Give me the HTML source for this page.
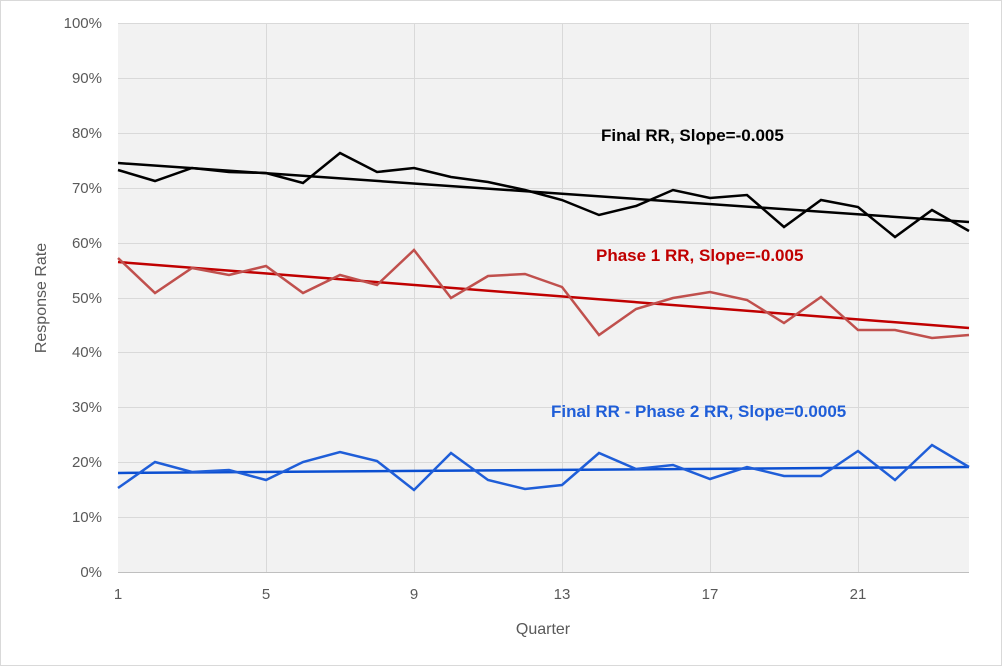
<!DOCTYPE html>
<html><head><meta charset="utf-8"><style>
body{margin:0;background:#fff}
svg{display:block;font-family:"Liberation Sans",Arial,sans-serif}
</style></head><body>
<svg width="1002" height="666" viewBox="0 0 1002 666" xmlns="http://www.w3.org/2000/svg">
<rect x="0.5" y="0.5" width="1001" height="665" fill="#fff" stroke="#d9d9d9"/>
<rect x="118" y="23" width="851" height="549" fill="#f2f2f2"/>
<g stroke="#d9d9d9" stroke-width="1">
<line x1="118" x2="969" y1="23.5" y2="23.5"/><line x1="118" x2="969" y1="78.5" y2="78.5"/>
<line x1="118" x2="969" y1="133.5" y2="133.5"/><line x1="118" x2="969" y1="188.5" y2="188.5"/>
<line x1="118" x2="969" y1="243.5" y2="243.5"/><line x1="118" x2="969" y1="298.5" y2="298.5"/>
<line x1="118" x2="969" y1="352.5" y2="352.5"/><line x1="118" x2="969" y1="407.5" y2="407.5"/>
<line x1="118" x2="969" y1="462.5" y2="462.5"/><line x1="118" x2="969" y1="517.5" y2="517.5"/>
<line y1="23" y2="572" x1="266.5" x2="266.5"/><line y1="23" y2="572" x1="414.5" x2="414.5"/>
<line y1="23" y2="572" x1="562.5" x2="562.5"/><line y1="23" y2="572" x1="710.5" x2="710.5"/>
<line y1="23" y2="572" x1="858.5" x2="858.5"/>
</g>
<line x1="118" x2="969" y1="572.5" y2="572.5" stroke="#bfbfbf"/>
<g font-size="15" fill="#595959" text-anchor="end">
<text x="102" y="28">100%</text><text x="102" y="83">90%</text><text x="102" y="138">80%</text>
<text x="102" y="193">70%</text><text x="102" y="248">60%</text><text x="102" y="303">50%</text>
<text x="102" y="357">40%</text><text x="102" y="412">30%</text><text x="102" y="467">20%</text>
<text x="102" y="522">10%</text><text x="102" y="577">0%</text>
</g>
<g font-size="15" fill="#595959" text-anchor="middle">
<text x="118" y="599">1</text><text x="266" y="599">5</text><text x="414" y="599">9</text>
<text x="562" y="599">13</text><text x="710" y="599">17</text><text x="858" y="599">21</text>
<text x="543" y="634" font-size="16">Quarter</text>
</g>
<text transform="translate(46,298) rotate(-90)" font-size="16" fill="#595959" text-anchor="middle">Response Rate</text>
<g fill="none" stroke-width="2.5">
<line x1="118" y1="163" x2="969" y2="222" stroke="#000"/>
<line x1="118" y1="262" x2="969" y2="328" stroke="#c00000"/>
<line x1="118" y1="473" x2="969" y2="467" stroke="#0b4fd1"/>
<polyline stroke="#000" points="118,170 155,181 192,168 229,172 266,173 303,183 340,153 377,172 414,168 451,177 488,182 525,190 562,200 599,215 636,206 673,190 710,198 747,195 784,227 821,200 858,207 895,237 932,210 969,231"/>
<polyline stroke="#c0504d" points="118,258 155,293 192,268 229,275 266,266 303,293 340,275 377,285 414,250 451,298 488,276 525,274 562,287 599,335 636,309 673,298 710,292 747,300 784,323 821,297 858,330 895,330 932,338 969,335"/>
<polyline stroke="#1f5ed8" points="118,488 155,462 192,472 229,470 266,480 303,462 340,452 377,461 414,490 451,453 488,480 525,489 562,485 599,453 636,469 673,465 710,479 747,467 784,476 821,476 858,451 895,480 932,445 969,467"/>
</g>
<g font-size="17" font-weight="bold">
<text x="601" y="141" fill="#000">Final RR, Slope=-0.005</text>
<text x="596" y="261" fill="#c00000">Phase 1 RR, Slope=-0.005</text>
<text x="551" y="417" fill="#1f5ed8">Final RR - Phase 2 RR, Slope=0.0005</text>
</g>
</svg>
</body></html>
